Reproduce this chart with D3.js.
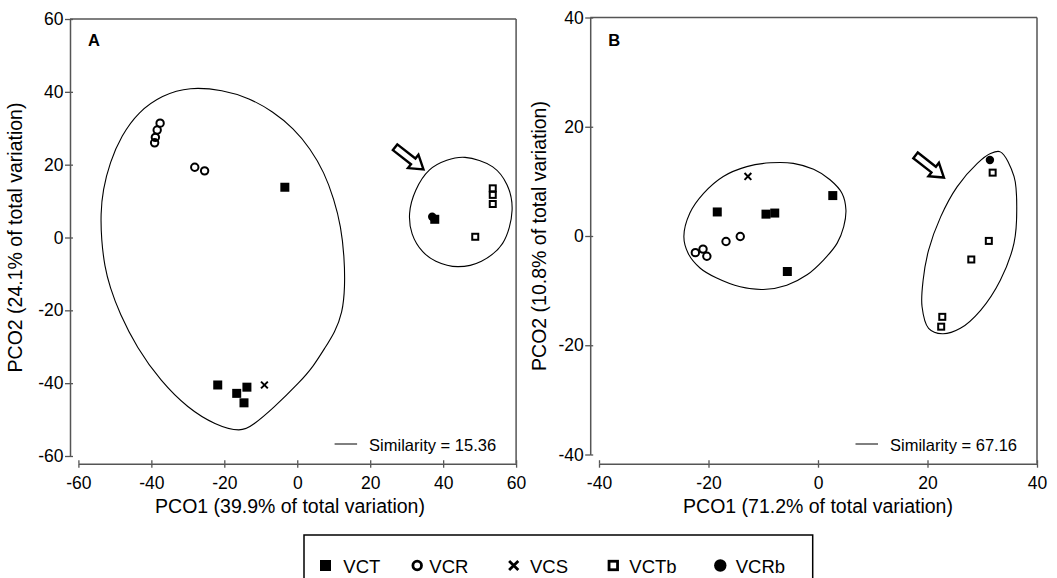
<!DOCTYPE html>
<html>
<head>
<meta charset="utf-8">
<script src="https://cdn.jsdelivr.net/npm/d3@7"></script>
<style>
  body { margin: 0; background: #fff; }
  svg text { font-family: "Liberation Sans", Arial, sans-serif; fill: #000; }
</style>
</head>
<body>
<svg id="chart" width="1057" height="578"></svg>
<script>
// ----- values (PCO scores) -----
const groups = ["VCT", "VCR", "VCS", "VCTb", "VCRb"];

// panel A
const aVCT  = [[-3.4, 13.8], [-21.8, -40.5], [-16.6, -42.8], [-13.8, -41.1], [-14.6, -45.4], [37.7, 5.0]];
const aVCR  = [[-39.1, 26.0], [-38.9, 27.5], [-38.4, 29.5], [-37.6, 31.4], [-28.1, 19.3], [-25.4, 18.3]];
const aVCS  = [[-9.0, -40.5]];
const aVCTb = [[53.6, 13.5], [53.6, 11.7], [53.6, 9.2], [48.8, 0.2]];
const aVCRb = [[37.0, 5.7]];

// panel B
const bVCT  = [[-18.4, 4.4], [-9.5, 4.0], [-7.9, 4.2], [2.7, 7.4], [-5.6, -6.5]];
const bVCR  = [[-22.4, -3.05], [-21.0, -2.4], [-20.3, -3.7], [-16.8, -1.0], [-14.2, -0.1]];
const bVCS  = [[-12.8, 10.9]];
const bVCTb = [[31.9, 11.6], [31.2, -0.9], [28.0, -4.3], [22.7, -14.8], [22.5, -16.6]];
const bVCRb = [[31.4, 13.9]];

// similarity contours (outline points, data units)
const aContourBig = [[-29.5, 41.4], [-20.4, 40.5], [-13.1, 38.3], [-6.7, 34.6], [-1.0, 30.0], [3.6, 24.4],
  [7.4, 17.9], [10.1, 10.5], [12.0, 3.0], [12.9, -5.3], [13.1, -13.5], [12.4, -20.8], [10.3, -26.0],
  [7.6, -30.3], [4.4, -35.4], [0.9, -39.5], [-6.7, -47.0], [-12.1, -51.5], [-15.4, -53.5],
  [-22.5, -51.5], [-30.0, -46.9], [-37.5, -39.4], [-44.0, -30.2], [-48.7, -20.9], [-51.4, -13.5],
  [-52.8, -8.0], [-53.7, -0.7], [-53.9, 6.6], [-53.3, 13.0], [-51.4, 20.6], [-48.2, 28.0],
  [-43.6, 34.5], [-37.1, 39.1]];
const aContourSmall = [[46.0, 22.0], [53.6, 19.4], [57.5, 14.5], [58.9, 7.5], [56.3, -1.6], [50.5, -6.5],
  [44.0, -8.0], [38.0, -6.5], [34.4, -3.9], [31.5, 1.0], [30.8, 6.6], [32.5, 13.0], [36.2, 18.5], [41.0, 21.2]];
const bContourLeft = [[-24.5, -0.1], [-23.4, 4.2], [-20.9, 7.8], [-17.3, 10.9], [-13.0, 12.7], [-8.7, 13.4],
  [-4.5, 13.3], [-0.8, 12.2], [2.2, 10.3], [4.4, 7.8], [5.1, 4.8], [4.7, 1.7], [3.5, -1.3], [1.0, -4.4],
  [-2.0, -7.1], [-5.7, -9.0], [-10.0, -9.8], [-14.2, -9.3], [-18.5, -7.7], [-21.5, -5.9], [-23.7, -3.2]];
const bContourRight = [[33.3, 15.4], [35.8, 10.9], [36.3, 4.8], [35.8, -1.3], [33.3, -8.1], [29.7, -13.6],
  [26.0, -16.9], [22.7, -17.9], [20.2, -16.9], [19.0, -12.9], [19.2, -8.1], [20.2, -2.6], [22.4, 3.5],
  [25.4, 9.0], [29.1, 13.3], [31.5, 15.1]];

const aArrowTip = [34.6, 18.7];
const bArrowTip = [23.0, 10.7];

const aTicks = [-60, -40, -20, 0, 20, 40, 60];
const bTicks = [-40, -20, 0, 20, 40];

const aSimilarity = "Similarity = 15.36";
const bSimilarity = "Similarity = 67.16";
const aXTitle = "PCO1 (39.9% of total variation)";
const aYTitle = "PCO2 (24.1% of total variation)";
const bXTitle = "PCO1 (71.2% of total variation)";
const bYTitle = "PCO2 (10.8% of total variation)";

// ----- drawing -----
const svg = d3.select("#chart");
const axisColor = "#555";

// marker sizes: in the plots and in the legend box
const plotSize   = { sq: 9, r: 3.7, sw: 2, cross: 3.4, osq: 6, osw: 2, dot: 4.2 };
const legendSize = { sq: 11, r: 4.3, sw: 2.8, cross: 4.6, osq: 8.5, osw: 2.8, dot: 6.2 };

function drawSymbol(g, type, cx, cy, z) {
  if (type === "VCT") {
    g.append("rect").attr("x", cx - z.sq / 2).attr("y", cy - z.sq / 2)
      .attr("width", z.sq).attr("height", z.sq).attr("fill", "#000");
  } else if (type === "VCR") {
    g.append("circle").attr("cx", cx).attr("cy", cy).attr("r", z.r)
      .attr("fill", "none").attr("stroke", "#000").attr("stroke-width", z.sw);
  } else if (type === "VCS") {
    const h = z.cross;
    g.append("path").attr("d", `M${cx - h},${cy - h}L${cx + h},${cy + h}M${cx - h},${cy + h}L${cx + h},${cy - h}`)
      .attr("stroke", "#000").attr("stroke-width", z.sw);
  } else if (type === "VCTb") {
    g.append("rect").attr("x", cx - z.osq / 2).attr("y", cy - z.osq / 2)
      .attr("width", z.osq).attr("height", z.osq)
      .attr("fill", "#fff").attr("stroke", "#000").attr("stroke-width", z.osw);
  } else if (type === "VCRb") {
    g.append("circle").attr("cx", cx).attr("cy", cy).attr("r", z.dot).attr("fill", "#000");
  }
}

function drawArrow(g, tx, ty) {
  const L = 36, hl = 13, h = 8.5, w = 3.6;
  g.append("path")
    .attr("d", `M0,0L${-hl},${-h}L${-hl},${-w}L${-L},${-w}L${-L},${w}L${-hl},${w}L${-hl},${h}Z`)
    .attr("transform", `translate(${tx},${ty}) rotate(38)`)
    .attr("fill", "#fff").attr("stroke", "#000").attr("stroke-width", 2.4).attr("stroke-linejoin", "miter");
}

function drawPanel(p) {
  const g = svg.append("g");
  const x = d3.scaleLinear().domain(p.domain).range([p.left, p.right]);
  const y = d3.scaleLinear().domain(p.domain).range([p.bottom, p.top]);

  // frame: top and right
  g.append("line").attr("x1", p.axisX).attr("x2", p.right).attr("y1", p.top).attr("y2", p.top)
    .attr("stroke", axisColor).attr("stroke-width", 1.5);
  g.append("line").attr("x1", p.right).attr("x2", p.right).attr("y1", p.top).attr("y2", p.axisY)
    .attr("stroke", axisColor).attr("stroke-width", 1.5);

  // y axis
  const ya = g.append("g").attr("transform", `translate(${p.axisX},0)`)
    .call(d3.axisLeft(y).tickValues(p.ticks).tickFormat(d => String(d))
      .tickSize(5).tickSizeOuter(0).tickPadding(1.5));
  ya.selectAll(".tick").append("line").attr("x2", 3);
  // x axis
  const xa = g.append("g").attr("transform", `translate(0,${p.axisY})`)
    .call(d3.axisBottom(x).tickValues(p.ticks).tickFormat(d => String(d))
      .tickSize(4).tickSizeOuter(0).tickPadding(8.4));
  xa.selectAll(".tick").append("line").attr("y2", -3.5);

  [ya, xa].forEach(a => {
    a.attr("font-size", null).attr("font-family", null);
    a.select(".domain").attr("stroke", axisColor).attr("stroke-width", 1.5);
    a.selectAll(".tick line").attr("stroke", axisColor).attr("stroke-width", 1.3);
    a.selectAll(".tick text").attr("fill", "#000").style("font-size", "17.5px");
  });

  // contours (the big one is smoothed with a basis spline)
  p.contours.forEach(c => {
    const curve = c.length > 30 ? d3.curveBasisClosed : d3.curveCatmullRomClosed.alpha(0.5);
    const line = d3.line().x(d => x(d[0])).y(d => y(d[1])).curve(curve);
    g.append("path").attr("d", line(c)).attr("fill", "none").attr("stroke", "#000").attr("stroke-width", 1.1);
  });

  // points
  p.series.forEach(s => {
    s.values.forEach(d => drawSymbol(g, s.type, x(d[0]), y(d[1]), plotSize));
  });

  drawArrow(g, x(p.arrow[0]), y(p.arrow[1]));

  // labels
  g.append("text").attr("x", p.axisX + 18).attr("y", 45.5).attr("font-weight", "bold")
    .style("font-size", "16.5px").text(p.label);
  g.append("line").attr("x1", p.right - 181.5).attr("x2", p.right - 159).attr("y1", 444).attr("y2", 444)
    .attr("stroke", "#000").attr("stroke-width", 1);
  g.append("text").attr("x", p.right - 147).attr("y", 450.5).style("font-size", "16.5px").text(p.similarity);

  g.append("text").attr("x", p.xTitleX).attr("y", 513).attr("text-anchor", "middle")
    .style("font-size", "19.5px").text(p.xTitle);
  g.append("text").attr("transform", `translate(${p.yTitleX},${(p.top + p.bottom) / 2}) rotate(-90)`)
    .attr("text-anchor", "middle").style("font-size", "19.5px").text(p.yTitle);
}

drawPanel({
  label: "A", domain: [-60, 60], ticks: aTicks,
  left: 78.4, right: 516.1, top: 19, bottom: 456, axisX: 70, axisY: 463.7,
  contours: [aContourBig, aContourSmall],
  series: [
    { type: "VCR", values: aVCR }, { type: "VCS", values: aVCS }, { type: "VCTb", values: aVCTb },
    { type: "VCT", values: aVCT }, { type: "VCRb", values: aVCRb }
  ],
  arrow: aArrowTip, similarity: aSimilarity,
  xTitle: aXTitle, yTitle: aYTitle, xTitleX: 290, yTitleX: 22
});

drawPanel({
  label: "B", domain: [-40, 40], ticks: bTicks,
  left: 599, right: 1037, top: 17.5, bottom: 454.5, axisX: 590.2, axisY: 463.7,
  contours: [bContourLeft, bContourRight],
  series: [
    { type: "VCR", values: bVCR }, { type: "VCS", values: bVCS }, { type: "VCTb", values: bVCTb },
    { type: "VCT", values: bVCT }, { type: "VCRb", values: bVCRb }
  ],
  arrow: bArrowTip, similarity: bSimilarity,
  xTitle: bXTitle, yTitle: bYTitle, xTitleX: 818, yTitleX: 546
});

// legend
const legendX = [325.5, 417.2, 513.7, 613.3, 720.3];
const legendTextX = [343.3, 429.3, 530, 629.3, 735.7];
const lg = svg.append("g");
lg.append("rect").attr("x", 304).attr("y", 535).attr("width", 508.7).attr("height", 70)
  .attr("fill", "none").attr("stroke", "#000").attr("stroke-width", 1.5);
groups.forEach((name, i) => {
  drawSymbol(lg, name, legendX[i], 565.5, legendSize);
  lg.append("text").attr("x", legendTextX[i]).attr("y", 572.5).style("font-size", "18.5px").text(name);
});
</script>
</body>
</html>
